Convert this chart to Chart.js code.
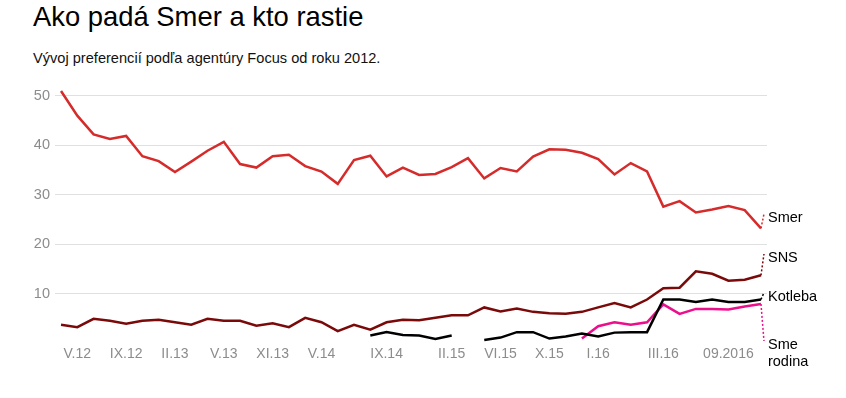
<!DOCTYPE html>
<html>
<head>
<meta charset="utf-8">
<script src="https://cdn.jsdelivr.net/npm/chart.js@4/dist/chart.umd.min.js"></script>
<style>
  html, body { margin: 0; padding: 0; background: #fff; }
  body { width: 846px; height: 398px; position: relative; overflow: hidden; font-family: Arial, "Liberation Sans", sans-serif; }
  h1 { position: absolute; left: 33px; top: 0px; margin: 0; font-size: 27.4px; font-weight: normal; color: #000; line-height: 34px; }
  p.sub { position: absolute; left: 33px; top: 48px; margin: 0; font-size: 14.6px; color: #111; line-height: 20px; }
  #wrap { position: absolute; left: 0; top: 0; width: 846px; height: 398px; }
</style>
</head>
<body>
<h1>Ako padá Smer a kto rastie</h1>
<p class="sub">Vývoj preferencií podľa agentúry Focus od roku 2012.</p>
<div id="wrap"><canvas id="chart" width="846" height="398"></canvas></div>
<script>
// Tick labels along the x axis (one slot per survey, most slots unlabeled)
const xLabels = [
  '', 'V.12', '', '', 'IX.12', '', '', 'II.13', '', '', 'V.13', '', '', 'XI.13', '', '',
  'V.14', '', '', '', 'IX.14', '', '', '', 'II.15', '', '', 'VI.15', '', '', 'X.15', '',
  '', 'I.16', '', '', '', 'III.16', '', '', '', '09.2016', '', ''
];
const yTicks = [10, 20, 30, 40, 50];

// Party preferences in %, one value per survey
const smer = [
  51.0, 46.0, 42.2, 41.3, 41.9, 37.8, 36.8, 34.6, 36.7, 38.9, 40.7, 36.2, 35.5, 37.8, 38.1,
  35.8, 34.7, 32.2, 37.0, 37.9, 33.7, 35.5, 34.0, 34.2, 35.6, 37.4, 33.3, 35.4, 34.7, 37.7,
  39.2, 39.1, 38.5, 37.2, 34.1, 36.4, 34.7, 27.6, 28.7, 26.4, 27.0, 27.7, 26.9, 23.2
];
const sns = [
  3.7, 3.2, 4.9, 4.5, 3.9, 4.5, 4.7, 4.2, 3.7, 4.9, 4.5, 4.5, 3.5, 4.0, 3.2,
  5.1, 4.2, 2.4, 3.7, 2.7, 4.2, 4.7, 4.6, 5.1, 5.6, 5.6, 7.2, 6.4, 7.0, 6.3,
  6.0, 5.9, 6.3, 7.2, 8.1, 7.2, 8.8, 11.1, 11.2, 14.5, 14.0, 12.6, 12.8, 13.7
];
const kotleba = [
  null, null, null, null, null, null, null, null, null, null, null, null, null, null, null,
  null, null, null, null, 1.5, 2.2, 1.6, 1.5, 0.8, 1.5, null, 0.6, 1.1, 2.2, 2.2,
  0.9, 1.3, 1.9, 1.3, 2.1, 2.2, 2.2, 8.8, 8.8, 8.3, 8.8, 8.3, 8.3, 8.8
];
const smeRodina = [
  null, null, null, null, null, null, null, null, null, null, null, null, null, null, null,
  null, null, null, null, null, null, null, null, null, null, null, null, null, null, null,
  null, null, 0.9, 3.4, 4.2, 3.7, 4.2, 7.8, 5.9, 6.9, 6.9, 6.8, 7.4, 7.9
];
const seriesNames = ['Smer', 'SNS', 'Kotleba', 'Sme rodina'];

const toPoints = arr => arr.map((v, i) => ({ x: i, y: v }));
const labelTicks = xLabels.map((l, i) => l ? i : null).filter(i => i !== null);

// Where each end label sits (in value units)
const endLabels = [
  { value: 25.3, lines: ['Smer'] },
  { value: 17.2, lines: ['SNS'] },
  { value: 9.4, lines: ['Kotleba'] },
  { value: -0.4, lines: ['Sme', 'rodina'] }
];

const endLabelPlugin = {
  id: 'endLabels',
  afterDatasetsDraw(chart) {
    const ctx = chart.ctx;
    const y = chart.scales.y;
    chart.data.datasets.forEach((ds, di) => {
      const meta = chart.getDatasetMeta(di);
      const last = meta.data[meta.data.length - 1];
      const lab = endLabels[di];
      const ly = y.getPixelForValue(lab.value);
      ctx.save();
      ctx.strokeStyle = ds.borderColor;
      ctx.lineWidth = 1.5;
      ctx.setLineDash([2, 2]);
      ctx.beginPath();
      ctx.moveTo(last.x, last.y);
      ctx.lineTo(last.x + 3, ly - 4);
      ctx.stroke();
      ctx.setLineDash([]);
      ctx.fillStyle = '#000';
      ctx.font = '14.5px Arial, "Liberation Sans", sans-serif';
      ctx.textBaseline = 'middle';
      lab.lines.forEach((t, k) => ctx.fillText(t, last.x + 7, ly + k * 17));
      ctx.restore();
    });
  }
};

const colors = ['#d52b2b', '#7a0a0a', '#000000', '#ec0f8c'];

new Chart(document.getElementById('chart'), {
  type: 'line',
  data: {
    datasets: [smer, sns, kotleba, smeRodina].map((arr, i) => ({
      label: seriesNames[i],
      data: toPoints(arr),
      borderColor: colors[i],
      borderWidth: 2.5,
      pointRadius: 0,
      tension: 0,
      spanGaps: false,
      fill: false
    }))
  },
  options: {
    responsive: false,
    animation: false,
    events: [],
    layout: { padding: { top: 86, right: 79, left: 0, bottom: 0 } },
    plugins: { legend: { display: false }, tooltip: { enabled: false } },
    scales: {
      x: {
        type: 'linear',
        min: -0.37,
        max: 43.37,
        grid: { display: false, drawTicks: false },
        border: { display: false },
        afterBuildTicks: scale => { scale.ticks = labelTicks.map(v => ({ value: v })); },
        afterFit: scale => { scale.height = 55; },
        ticks: {
          autoSkip: false,
          maxRotation: 0,
          padding: 3,
          color: '#8c8c8c',
          font: { family: 'Arial, "Liberation Sans", sans-serif', size: 14 },
          callback: v => xLabels[v]
        }
      },
      y: {
        min: 0,
        max: 52,
        grid: { color: '#e0e0e0', lineWidth: 1, drawTicks: false },
        border: { display: false },
        afterBuildTicks: scale => { scale.ticks = yTicks.map(v => ({ value: v })); },
        afterFit: scale => { scale.width = 55; },
        ticks: {
          padding: 5,
          color: '#8c8c8c',
          font: { family: 'Arial, "Liberation Sans", sans-serif', size: 14.5 }
        }
      }
    }
  },
  plugins: [endLabelPlugin]
});
</script>
</body>
</html>
